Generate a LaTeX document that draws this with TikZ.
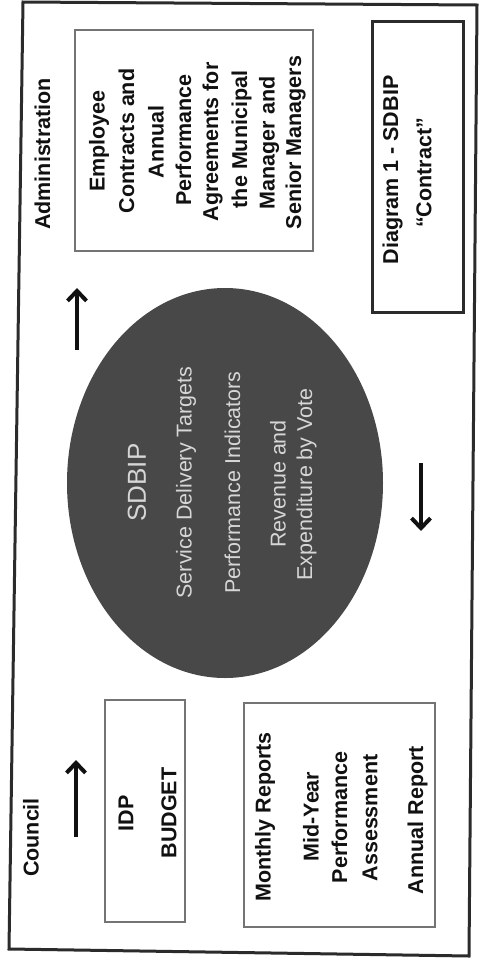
\documentclass[tikz,border=0pt]{standalone}
\usepackage{fontspec}
\setmainfont{Liberation Sans}
\usetikzlibrary{shapes.geometric,arrows.meta}
\definecolor{framecol}{HTML}{2B2B2B}
\definecolor{boxcol}{HTML}{747474}
\definecolor{ellcol}{HTML}{484848}
\definecolor{elltext}{HTML}{D6D6D6}
\definecolor{inkcol}{HTML}{111111}
\begin{document}
\begin{tikzpicture}[x=1pt,y=-1pt,
  lbl/.style={rotate=90,inner sep=0pt,text=inkcol,font=\fontsize{21.5}{26}\selectfont\bfseries},
  elbl/.style={rotate=90,inner sep=0pt,text=elltext,font=\fontsize{21.5}{26}\selectfont},
  softbox/.style={draw=boxcol,line width=2.5pt,rectangle,inner sep=0pt},
  hardbox/.style={draw=framecol,line width=3pt,rectangle,inner sep=0pt},
  flowarrow/.style={line width=4pt,draw=inkcol,-{Straight Barb[length=10pt,width=19pt]}}
]
\useasboundingbox (0,0) rectangle (479,959);
% outer frame
\draw[framecol,line width=3pt] (23,2) -- (477,5) -- (469,956) -- (9,949) -- cycle;

% boxes
\node[softbox,minimum width=238pt,minimum height=221pt] (admin) at (194,140.5) {};
\node[hardbox,minimum width=91pt,minimum height=291pt] (diag) at (417.5,166.5) {};
\node[softbox,minimum width=80pt,minimum height=222pt] (idp) at (145,811) {};
\node[softbox,minimum width=191pt,minimum height=224pt] (monthly) at (339.5,815) {};

% ellipse
\node[ellipse,fill=ellcol,minimum width=316pt,minimum height=390pt,inner sep=0pt] (sdbip) at (225,483) {};

% titles
\node[lbl] (tadmin) at (42.5,154) {Administration};
\node[lbl] (tcouncil) at (31,837.5) {Council};

% admin box text
\node[lbl] (a1) at (99,141) {Employee};
\node[lbl] (a2) at (126.5,141) {Contracts and};
\node[lbl] (a3) at (156,142) {Annual};
\node[lbl] (a4) at (183.5,140) {Performance};
\node[lbl] (a5) at (212.5,142) {Agreements for};
\node[lbl] (a6) at (241.5,139.5) {the Municipal};
\node[lbl] (a7) at (269,143) {Manager and};
\node[lbl] (a8) at (295.5,142.5) {Senior Managers};

% diagram box text
\node[lbl] (d1) at (392.5,170) {Diagram 1 - SDBIP};
\node[lbl] (d2) at (424,173) {“Contract”};

% IDP box
\node[lbl] (i1) at (126,813.5) {IDP};
\node[lbl] (i2) at (169,813) {BUDGET};

% monthly box
\node[lbl] (m1) at (265,817) {Monthly Reports};
\node[lbl] (m2) at (311,816.5) {Mid-Year};
\node[lbl] (m3) at (339.5,817.5) {Performance};
\node[lbl] (m4) at (370,818) {Assessment};
\node[lbl] (m5) at (417.5,820) {Annual Report};

% ellipse text
\node[elbl,font=\fontsize{26}{30}\selectfont] (e1) at (137,482.5) {SDBIP};
\node[elbl] (e2) at (186,482.5) {Service Delivery Targets};
\node[elbl] (e3) at (232.5,482.5) {Performance Indicators};
\node[elbl] (e4) at (278,484) {Revenue and};
\node[elbl] (e5) at (306.5,484.5) {Expenditure by Vote};

% arrows
\coordinate (t1s) at (77,350);
\coordinate (t1e) at (77,288);
\coordinate (t2s) at (421,463);
\coordinate (t2e) at (421,531);
\coordinate (t3s) at (76,837);
\coordinate (t3e) at (76,760);
\draw[flowarrow] (t1s) -- (t1e);
\draw[flowarrow] (t2s) -- (t2e);
\draw[flowarrow] (t3s) -- (t3e);
\end{tikzpicture}
\end{document}
